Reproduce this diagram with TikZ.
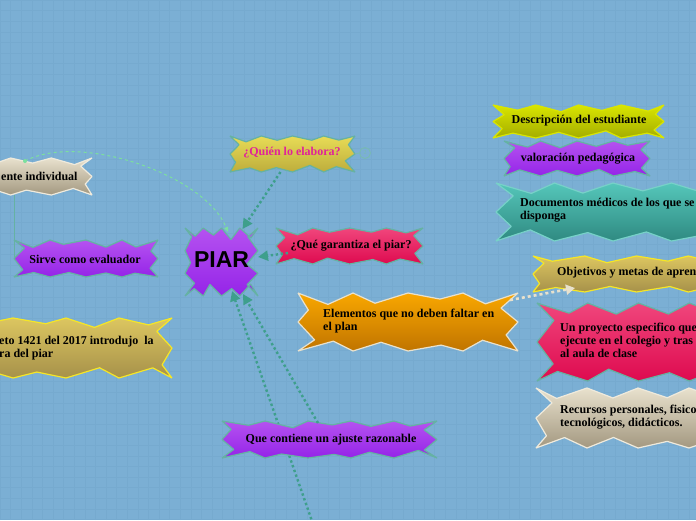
\documentclass[tikz,border=0pt]{standalone}
\usepackage{fontspec}
\setmainfont{Liberation Serif}
\newfontfamily\headfont{Liberation Sans}
\usetikzlibrary{arrows.meta,calc}
\definecolor{bg}{HTML}{7BAFD4}
\definecolor{gridc}{HTML}{76AACF}
\definecolor{tealc}{HTML}{3E9F8C}
\definecolor{purT}{HTML}{B552F0}
\definecolor{purB}{HTML}{9524E8}
\definecolor{crmT}{HTML}{F0467C}
\definecolor{crmB}{HTML}{DE0A4F}
\definecolor{orgT}{HTML}{F9A700}
\definecolor{orgB}{HTML}{C07400}
\definecolor{yelT}{HTML}{E8DC56}
\definecolor{yelB}{HTML}{BDAD3C}
\definecolor{golT}{HTML}{DCC660}
\definecolor{golB}{HTML}{A6914A}
\definecolor{beiT}{HTML}{E8E1CD}
\definecolor{beiB}{HTML}{A39880}
\definecolor{ygrT}{HTML}{D9E500}
\definecolor{ygrB}{HTML}{A4AD00}
\definecolor{tlT}{HTML}{55C6BA}
\definecolor{tlB}{HTML}{2F8A81}
\definecolor{magc}{HTML}{E0229A}
\newcommand\jag[9]{%
  \path[#1] (#2,#3)
  \foreach \i in {1,...,#6}{ -- ({#2+(#4-#2)*\i/#6+mod(\i,2)*(rnd-0.5)*(#4-#2)/#6*0.6}, {#3+mod(\i,2)*#8*(0.6+0.7*rnd)}) }
  \foreach \i in {1,...,#7}{ -- ({#4-mod(\i,2)*#9*(0.6+0.7*rnd)}, {#3+(#5-#3)*\i/#7+mod(\i,2)*(rnd-0.5)*(#5-#3)/#7*0.5}) }
  \foreach \i in {1,...,#6}{ -- ({#4-(#4-#2)*\i/#6+mod(\i,2)*(rnd-0.5)*(#4-#2)/#6*0.6}, {#5-mod(\i,2)*#8*(0.6+0.7*rnd)}) }
  \foreach \i in {1,...,#7}{ -- ({#2+mod(\i,2)*#9*(0.6+0.7*rnd)}, {#5-(#5-#3)*\i/#7+mod(\i,2)*(rnd-0.5)*(#5-#3)/#7*0.5}) }
  -- cycle;}
\begin{document}
\begin{tikzpicture}[x=1pt,y=-1pt,
  gridline/.style={draw=gridc,line width=0.6pt},
  sh/.style={line width=1.2pt,line join=bevel},
  purple/.style={sh,top color=purT,bottom color=purB,draw=tealc!80},
  crimson/.style={sh,top color=crmT,bottom color=crmB,draw=tealc!80},
  orange/.style={sh,top color=orgT,bottom color=orgB,draw=beiT},
  yellow/.style={sh,top color=yelT,bottom color=yelB,draw=tealc!80},
  gold/.style={sh,top color=golT,bottom color=golB,draw=yellow!70!golT},
  beige/.style={sh,top color=beiT,bottom color=beiB,draw=beiT!70!white},
  ygreen/.style={sh,top color=ygrT,bottom color=ygrB,draw=ygrT},
  teal/.style={sh,top color=tlT,bottom color=tlB,draw=tlT!80!white},
  box/.style={inner sep=0pt,outer sep=0pt},
  txt/.style={font=\bfseries\fontsize{12}{13}\selectfont,text=black,align=left},
  dotarrow/.style={draw=tealc,line width=2.4pt,dash pattern=on 2.4pt off 2.6pt,
     -{Triangle[length=10pt,width=10pt,fill=tealc]}},
  lightarrow/.style={draw=beiT,line width=2.6pt,dash pattern=on 3pt off 3pt,
     -{Triangle[length=9pt,width=10pt,fill=beiT]}},
  greendash/.style={draw=green!45!bg!70!white,line width=1pt,dash pattern=on 3pt off 3pt,
     -{Triangle[length=5pt,width=4pt]}}
]
\useasboundingbox (0,0) rectangle (696,520);
\clip (0,0) rectangle (696,520);
\fill[bg] (0,0) rectangle (696,520);
\draw[gridline,step=10.6pt] (0,0) grid (696,520);

% named boxes
\node[box,minimum width=122pt,minimum height=37pt] (ente) at (31,176.5) {};
\node[box,minimum width=144pt,minimum height=37pt] (sirve) at (86,258.5) {};
\node[box,minimum width=73pt,minimum height=68pt] (piar) at (221.5,262) {};
\node[box,minimum width=125pt,minimum height=36pt] (quien) at (292.5,154) {};
\node[box,minimum width=147pt,minimum height=36pt] (garant) at (349.5,246) {};
\node[box,minimum width=220pt,minimum height=58pt] (elem) at (408,322) {};
\node[box,minimum width=215pt,minimum height=37pt] (contiene) at (329.5,439.5) {};
\node[box,minimum width=207pt,minimum height=36pt] (obj) at (636.5,274) {};
\coordinate (bot) at (313,524);

% shapes
\pgfmathsetseed{11}\jag{beige}{-30}{158}{92}{195}{6}{4}{7}{9}
\pgfmathsetseed{12}\jag{purple}{14}{240}{158}{277}{8}{4}{6}{9}
\pgfmathsetseed{13}\jag{gold}{-40}{318}{172}{378}{8}{4}{8}{14}
\pgfmathsetseed{14}\jag{purple}{185}{228}{258}{296}{8}{6}{10}{9}
\pgfmathsetseed{15}\jag{yellow}{230}{136}{355}{172}{8}{4}{6}{9}
\pgfmathsetseed{16}\jag{crimson}{276}{228}{423}{264}{8}{4}{6}{9}
\pgfmathsetseed{17}\jag{orange}{298}{293}{518}{351}{8}{4}{9}{16}
\pgfmathsetseed{19}\jag{ygreen}{493}{105}{664}{138}{8}{4}{6}{9}
\pgfmathsetseed{20}\jag{purple}{504}{141}{650}{176}{8}{4}{6}{9}
\pgfmathsetseed{21}\jag{teal}{496}{183}{730}{241}{8}{4}{9}{15}
\pgfmathsetseed{22}\jag{gold}{533}{256}{740}{292}{8}{4}{6}{10}
\pgfmathsetseed{23}\jag{crimson}{537}{303}{740}{381}{8}{4}{10}{16}
\pgfmathsetseed{24}\jag{beige}{536}{388}{740}{448}{8}{4}{9}{16}
% connector passing behind the "Que contiene" node
\draw[dotarrow] (bot) -- ($(piar.south)+(10.5,-5)$);
\pgfmathsetseed{18}\jag{purple}{222}{421}{437}{458}{10}{4}{6}{10}

\node[circle,draw=tealc!70,line width=0.8pt,inner sep=0pt,minimum size=11pt,
      font=\fontsize{6}{6}\selectfont,text=tealc!70] (count) at (365,153) {2};

% texts
\node[txt,anchor=west,inner xsep=0pt] (enteT) at (1,176) {ente individual};
\node[txt] (sirveT) at (85,259) {Sirve como evaluador};
\node[txt,anchor=west,inner xsep=0pt] (decT) at (-1,348) {eto 1421 del 2017 introdujo\ \ la\\ra del piar};
\node[font=\headfont\bfseries\fontsize{23}{23}\selectfont] (piarT) at (221.5,260) {PIAR};
\node[txt,text=magc] (quienT) at (292,153) {¿Quién lo elabora?};
\node[txt] (garantT) at (351,246) {¿Qué garantiza el piar?};
\node[txt,anchor=west,inner xsep=0pt] (elemT) at (323,321) {Elementos que no deben faltar en\\el plan};
\node[txt] (contT) at (331,440) {Que contiene un ajuste razonable};
\node[txt] (descT) at (579,121) {Descripción del estudiante};
\node[txt] (valT) at (578,159) {valoración pedagógica};
\node[txt,anchor=west,inner xsep=0pt] (docT) at (520,210) {Documentos médicos de los que se\\disponga};
\node[txt,anchor=west,inner xsep=0pt] (objT) at (557,273) {Objetivos y metas de apren};
\node[txt,anchor=west,inner xsep=0pt] (proyT) at (560,340) {Un proyecto especifico que\\ejecute en el colegio y tras\\al aula de clase};
\node[txt,anchor=west,inner xsep=0pt] (recT) at (560,417) {Recursos personales, fisico\\tecnológicos, didácticos.};

% connectors
\draw[tealc!70,line width=0.8pt] (quien.east) -- (count.west);
\draw[dotarrow] ($(quien.south)+(-12,0)$) -- ($(piar.north)+(21,1)$);
\draw[dotarrow] ($(garant.west)+(12,7)$) -- ($(piar.east)+(0,-5)$);
\draw[dotarrow] ($(contiene.north)+(-11.5,2)$) -- ($(piar.south)+(21.5,-2)$);
\draw[lightarrow] ($(elem.east)+(-8,-22)$) -- ($(obj.south west)+(42,-4)$);
\draw[greendash] ($(ente.north)+(-6,3)$) .. controls (80,132) and (205,175) .. ($(piar.north)+(6.5,4)$);
\fill[green!45!bg!70!white] ($(ente.north)+(-6,3)$) circle (2pt);
\draw[tealc!80,line width=0.9pt] ($(ente.south)+(-17,0)$) -- (sirve.west);
\end{tikzpicture}
\end{document}
